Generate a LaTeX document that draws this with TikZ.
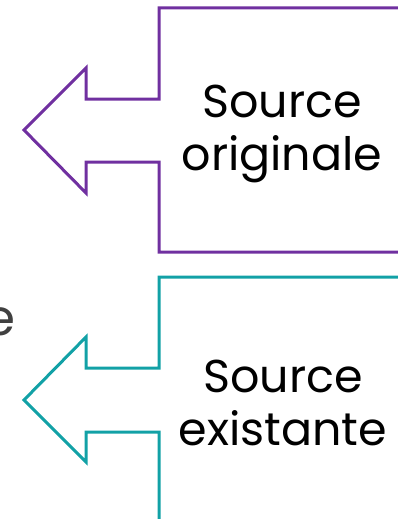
\documentclass[tikz,border=0pt]{standalone}
\usepackage{fontspec}
\setmainfont{Poppins}
\usetikzlibrary{positioning,calc}
\definecolor{calloutpurple}{HTML}{7030A0}
\definecolor{calloutteal}{HTML}{12A1A6}
\tikzset{
	callout/.style={line width=3pt, line join=miter},
	label text/.style={font=\fontsize{46}{53}\selectfont, align=center, text=black},
}
\begin{document}
\begin{tikzpicture}[x=1pt,y=-1pt]
		\useasboundingbox (0,0) rectangle (398,519);
		\clip (0,0) rectangle (398,519);
		% left-pointing callouts
		\draw[callout, draw=calloutpurple] (410,8) -- (159,8) -- (159,99) -- (86,99) -- (86,68) -- (24,130) -- (86,193) -- (86,162) -- (159,162) -- (159,252) -- (410,252);
		\draw[callout, draw=calloutteal] (410,277) -- (159,277) -- (159,368) -- (86,368) -- (86,337) -- (24,400) -- (86,462) -- (86,432) -- (159,432) -- (159,540);
		
		\node[label text] (orig) at (282,134) {Source\\originale};
		\node[label text] (exist) at (283,403) {Source\\existante};
		\node[font=\fontsize{50}{60}\selectfont, text=black!75, anchor=east, inner sep=0pt] (cut) at (16,322) {e};
	\end{tikzpicture}
\end{document}
